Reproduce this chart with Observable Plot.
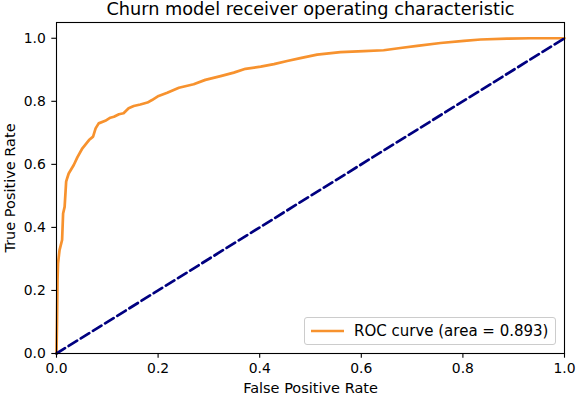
<!DOCTYPE html>
<html>
<head>
<meta charset="utf-8">
<script src="https://cdn.jsdelivr.net/npm/d3@7"></script>
<script src="https://cdn.jsdelivr.net/npm/@observablehq/plot@0.6"></script>
<style>
  html, body { margin: 0; padding: 0; background: #fff; }
  #wrap { position: relative; width: 576px; height: 398px; font-family: "DejaVu Sans", sans-serif; }
  #legend { position: absolute; left: 304px; top: 317px; width: 252px; height: 28px;
    border: 1px solid #cccccc; border-radius: 3px; background: rgba(255,255,255,0.8);
    display: flex; align-items: center; font-size: 15px; color: #000; box-sizing: border-box; white-space: nowrap; }
  #legend svg { margin-left: 6px; margin-right: 10px; }
</style>
</head>
<body>
<div id="wrap"></div>
<script>
const title = "Churn model receiver operating characteristic";
const xLabel = "False Positive Rate";
const yLabel = "True Positive Rate";
const legendLabel = "ROC curve (area = 0.893)";
const tickValues = [0, 0.2, 0.4, 0.6, 0.8, 1.0];

const fpr = [0, 0.001, 0.002, 0.003, 0.006, 0.011, 0.013, 0.016, 0.019, 0.021, 0.024, 0.034, 0.041, 0.051, 0.064, 0.072, 0.077, 0.083, 0.096, 0.106, 0.113, 0.123, 0.132, 0.142, 0.152, 0.165, 0.179, 0.188, 0.201, 0.218, 0.241, 0.270, 0.293, 0.323, 0.349, 0.372, 0.402, 0.428, 0.454, 0.480, 0.513, 0.559, 0.605, 0.644, 0.677, 0.710, 0.756, 0.802, 0.835, 0.887, 0.933, 1.0];
const tpr = [0, 0.100, 0.233, 0.286, 0.328, 0.360, 0.444, 0.465, 0.545, 0.556, 0.571, 0.598, 0.622, 0.651, 0.677, 0.688, 0.714, 0.730, 0.738, 0.748, 0.751, 0.759, 0.762, 0.778, 0.785, 0.790, 0.796, 0.804, 0.817, 0.827, 0.843, 0.854, 0.868, 0.880, 0.891, 0.903, 0.910, 0.918, 0.928, 0.937, 0.948, 0.956, 0.959, 0.962, 0.969, 0.976, 0.985, 0.992, 0.996, 0.999, 1.0, 1.0];
const diagX = [0, 1];
const diagY = [0, 1];

const roc = fpr.map((x, i) => ({x, y: tpr[i]}));
const diag = diagX.map((x, i) => ({x, y: diagY[i]}));

const ORANGE = "#f7922e";
const NAVY = "#000080";

const chart = Plot.plot({
  width: 576,
  height: 398,
  marginLeft: 56,
  marginRight: 12,
  marginTop: 22,
  marginBottom: 45,
  style: { fontFamily: "DejaVu Sans, sans-serif", fontSize: "13.9px", color: "#000", background: "#fff", overflow: "visible" },
  x: { domain: [0, 1] },
  y: { domain: [0, 1.05] },
  marks: [
    Plot.line(roc, {x: "x", y: "y", stroke: ORANGE, strokeWidth: 2.7, curve: "linear"}),
    Plot.line(diag, {x: "x", y: "y", stroke: NAVY, strokeWidth: 2.7, strokeDasharray: "10,4.3"}),
    Plot.frame({stroke: "#000", strokeWidth: 1.1}),
    Plot.axisX({ticks: tickValues, tickFormat: d3.format(".1f"), tickSize: 4.7, tickPadding: 5, label: null, strokeWidth: 1.1}),
    Plot.axisY({ticks: tickValues, tickFormat: d3.format(".1f"), tickSize: 4.7, tickPadding: 6, label: null, strokeWidth: 1.1}),
    Plot.text([title], {frameAnchor: "top", dy: -13, lineAnchor: "middle", textAnchor: "middle", text: d => d, fontSize: 17.7, fill: "#000"}),
    Plot.text([xLabel], {frameAnchor: "bottom", dy: 35, lineAnchor: "middle", textAnchor: "middle", text: d => d, fontSize: 14.5, fill: "#000"}),
    Plot.text([yLabel], {frameAnchor: "left", dx: -46, lineAnchor: "middle", textAnchor: "middle", rotate: -90, text: d => d, fontSize: 14.5, fill: "#000"})
  ]
});

const wrap = document.getElementById("wrap");
wrap.appendChild(chart);

const legend = document.createElement("div");
legend.id = "legend";
legend.innerHTML = `<svg width="33" height="6"><line x1="0" y1="3" x2="33" y2="3" stroke="${ORANGE}" stroke-width="2.7"/></svg><span></span>`;
legend.querySelector("span").textContent = legendLabel;
wrap.appendChild(legend);
</script>
</body>
</html>
